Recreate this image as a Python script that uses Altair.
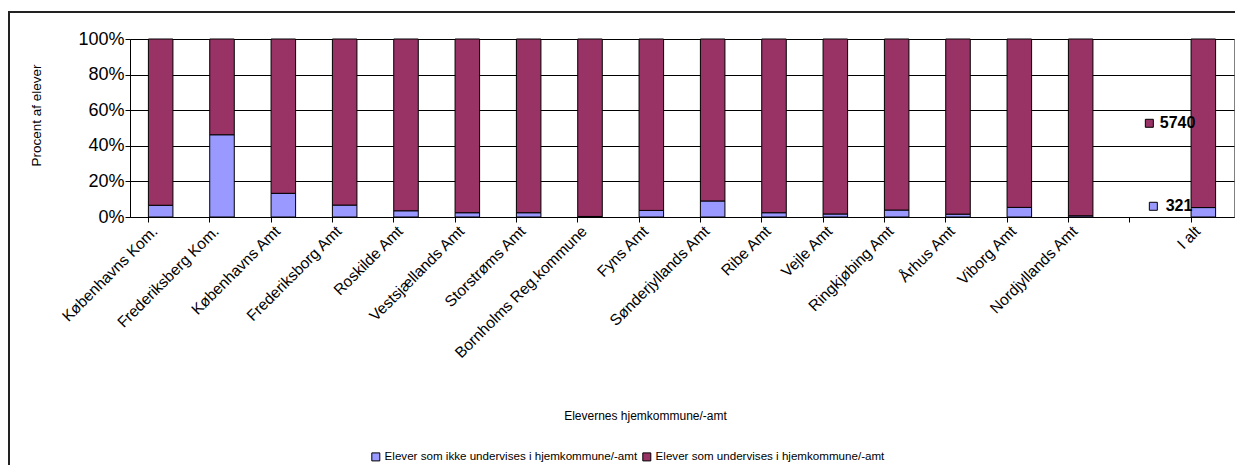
import altair as alt
import pandas as pd

categories = ["Københavns Kom.", "Frederiksberg Kom.", "Københavns Amt", "Frederiksborg Amt",
              "Roskilde Amt", "Vestsjællands Amt", "Storstrøms Amt", "Bornholms Reg.kommune",
              "Fyns Amt", "Sønderjyllands Amt", "Ribe Amt", "Vejle Amt", "Ringkjøbing Amt",
              "Århus Amt", "Viborg Amt", "Nordjyllands Amt", "I alt"]
not_home = [6.6, 46.2, 13.3, 6.7, 3.5, 2.4, 2.4, 0.3, 3.7, 9.0, 2.4, 1.7, 3.9, 1.6, 5.4, 0.7, 5.3]
home = [93.4, 53.8, 86.7, 93.3, 96.5, 97.6, 97.6, 99.7, 96.3, 91.0, 97.6, 98.3, 96.1, 98.4, 94.6, 99.3, 94.7]
series_names = ["Elever som ikke undervises i hjemkommune/-amt",
                "Elever som undervises i hjemkommune/-amt"]
series_colors = ["#9999FF", "#993366"]
total_counts = [321, 5740]
x_domain = categories[:16] + [" "] + ["I alt"]
y_ticks = [0, 20, 40, 60, 80, 100]

rows = []
for i, c in enumerate(categories):
    rows.append({"cat": c, "series": series_names[0], "value": not_home[i], "ord": 0})
    rows.append({"cat": c, "series": series_names[1], "value": home[i], "ord": 1})
df = pd.DataFrame(rows)

lab = pd.DataFrame([
    {"cat": "I alt", "label": str(total_counts[0]), "value": not_home[-1] / 2, "series": series_names[0]},
    {"cat": "I alt", "label": str(total_counts[1]), "value": not_home[-1] + home[-1] / 2, "series": series_names[1]},
])

FONT = "Liberation Sans"
W, H = 1104, 178

xscale = alt.Scale(domain=x_domain, paddingInner=0.6, paddingOuter=0.3)
yscale = alt.Scale(domain=[0, 100], nice=False)
cscale = alt.Scale(domain=series_names, range=series_colors)

xaxis = alt.Axis(title="Elevernes hjemkommune/-amt", labelAngle=315, labelAlign="right",
                 labelBaseline="bottom", labelPadding=12, labelFontSize=15.5, labelFont=FONT,
                 labelColor="black", tickColor="black", tickSize=5, bandPosition=0,
                 domainColor="black", titleFont=FONT, titleFontSize=12,
                 titleFontWeight="normal", titleColor="black", titleX=515, titleY=198,
                 titleBaseline="middle", titleAlign="center", labelOverlap=False,
                 labelLimit=400)
yaxis = alt.Axis(title="Procent af elever", values=y_ticks, tickCount=6,
                 labelExpr="datum.value + '%'",
                 labelFontSize=18, labelFont=FONT, labelColor="black", tickColor="black",
                 tickSize=5, labelPadding=1, domainColor="black", gridColor="black",
                 gridWidth=1, labelOverlap=False, labelFlush=False, labelBound=False,
                 titleFont=FONT, titleFontSize=13.5, titleFontWeight="normal",
                 titleColor="black", titleAngle=270, titleX=-94, titleY=76,
                 titleAlign="center", titleBaseline="middle")

xs = alt.X("cat:N", scale=xscale, sort=x_domain, axis=xaxis)
ys = alt.Y("value:Q", scale=yscale, axis=yaxis)

bars = alt.Chart(df).mark_bar(stroke="black", strokeWidth=1).encode(
    x=xs,
    y=alt.Y("value:Q", stack="zero", scale=yscale, axis=yaxis),
    color=alt.Color("series:N", scale=cscale, sort=series_names,
                    legend=alt.Legend(title=None, orient="none", legendX=240, legendY=412,
                                      direction="horizontal", columns=2, symbolType="square",
                                      symbolSize=64, symbolStrokeColor="black", symbolStrokeWidth=1,
                                      labelFont=FONT, labelFontSize=11.6, labelColor="black",
                                      labelOffset=3, columnPadding=2, labelLimit=400)),
    order=alt.Order("ord:Q"),
)

texts_blue = alt.Chart(lab).transform_filter(alt.datum.series == series_names[0]).mark_text(
    align="right", baseline="middle", dx=-11, dy=-6, font=FONT, fontSize=16, fontWeight="bold",
    color="black").encode(x=xs, y=ys, text="label:N")
texts_purple = alt.Chart(lab).transform_filter(alt.datum.series == series_names[1]).mark_text(
    align="right", baseline="middle", dx=-8, font=FONT, fontSize=16, fontWeight="bold",
    color="black").encode(x=xs, y=ys, text="label:N")

sq_blue = alt.Chart(lab).transform_filter(alt.datum.series == series_names[0]).mark_square(
    size=64, stroke="black", strokeWidth=1, opacity=1, xOffset=-50, yOffset=-6).encode(
    x=xs, y=ys, color=alt.Color("series:N", scale=cscale, legend=None))
sq_purple = alt.Chart(lab).transform_filter(alt.datum.series == series_names[1]).mark_square(
    size=64, stroke="black", strokeWidth=1, opacity=1, xOffset=-54).encode(
    x=xs, y=ys, color=alt.Color("series:N", scale=cscale, legend=None))

frame_data = alt.Data(values=[{"k": 1}])
frame_left = alt.Chart(frame_data).mark_rule(color="#222222", strokeWidth=2).encode(
    x=alt.value(-121), y=alt.value(-27), y2=alt.value(H + 260))
frame_top = alt.Chart(frame_data).mark_rule(color="#222222", strokeWidth=2).encode(
    x=alt.value(-122), x2=alt.value(W + 10), y=alt.value(-27))

chart = alt.layer(bars, frame_left, frame_top, sq_blue, sq_purple, texts_blue, texts_purple).properties(
    width=W, height=H,
    autosize=alt.AutoSizeParams(type="none"),
    padding={"left": 122, "top": 31, "right": 1, "bottom": 248},
    background="white",
).configure_view(stroke="#808080", strokeWidth=1)

chart.save("out.html", embed_options={"renderer": "svg", "actions": False})
